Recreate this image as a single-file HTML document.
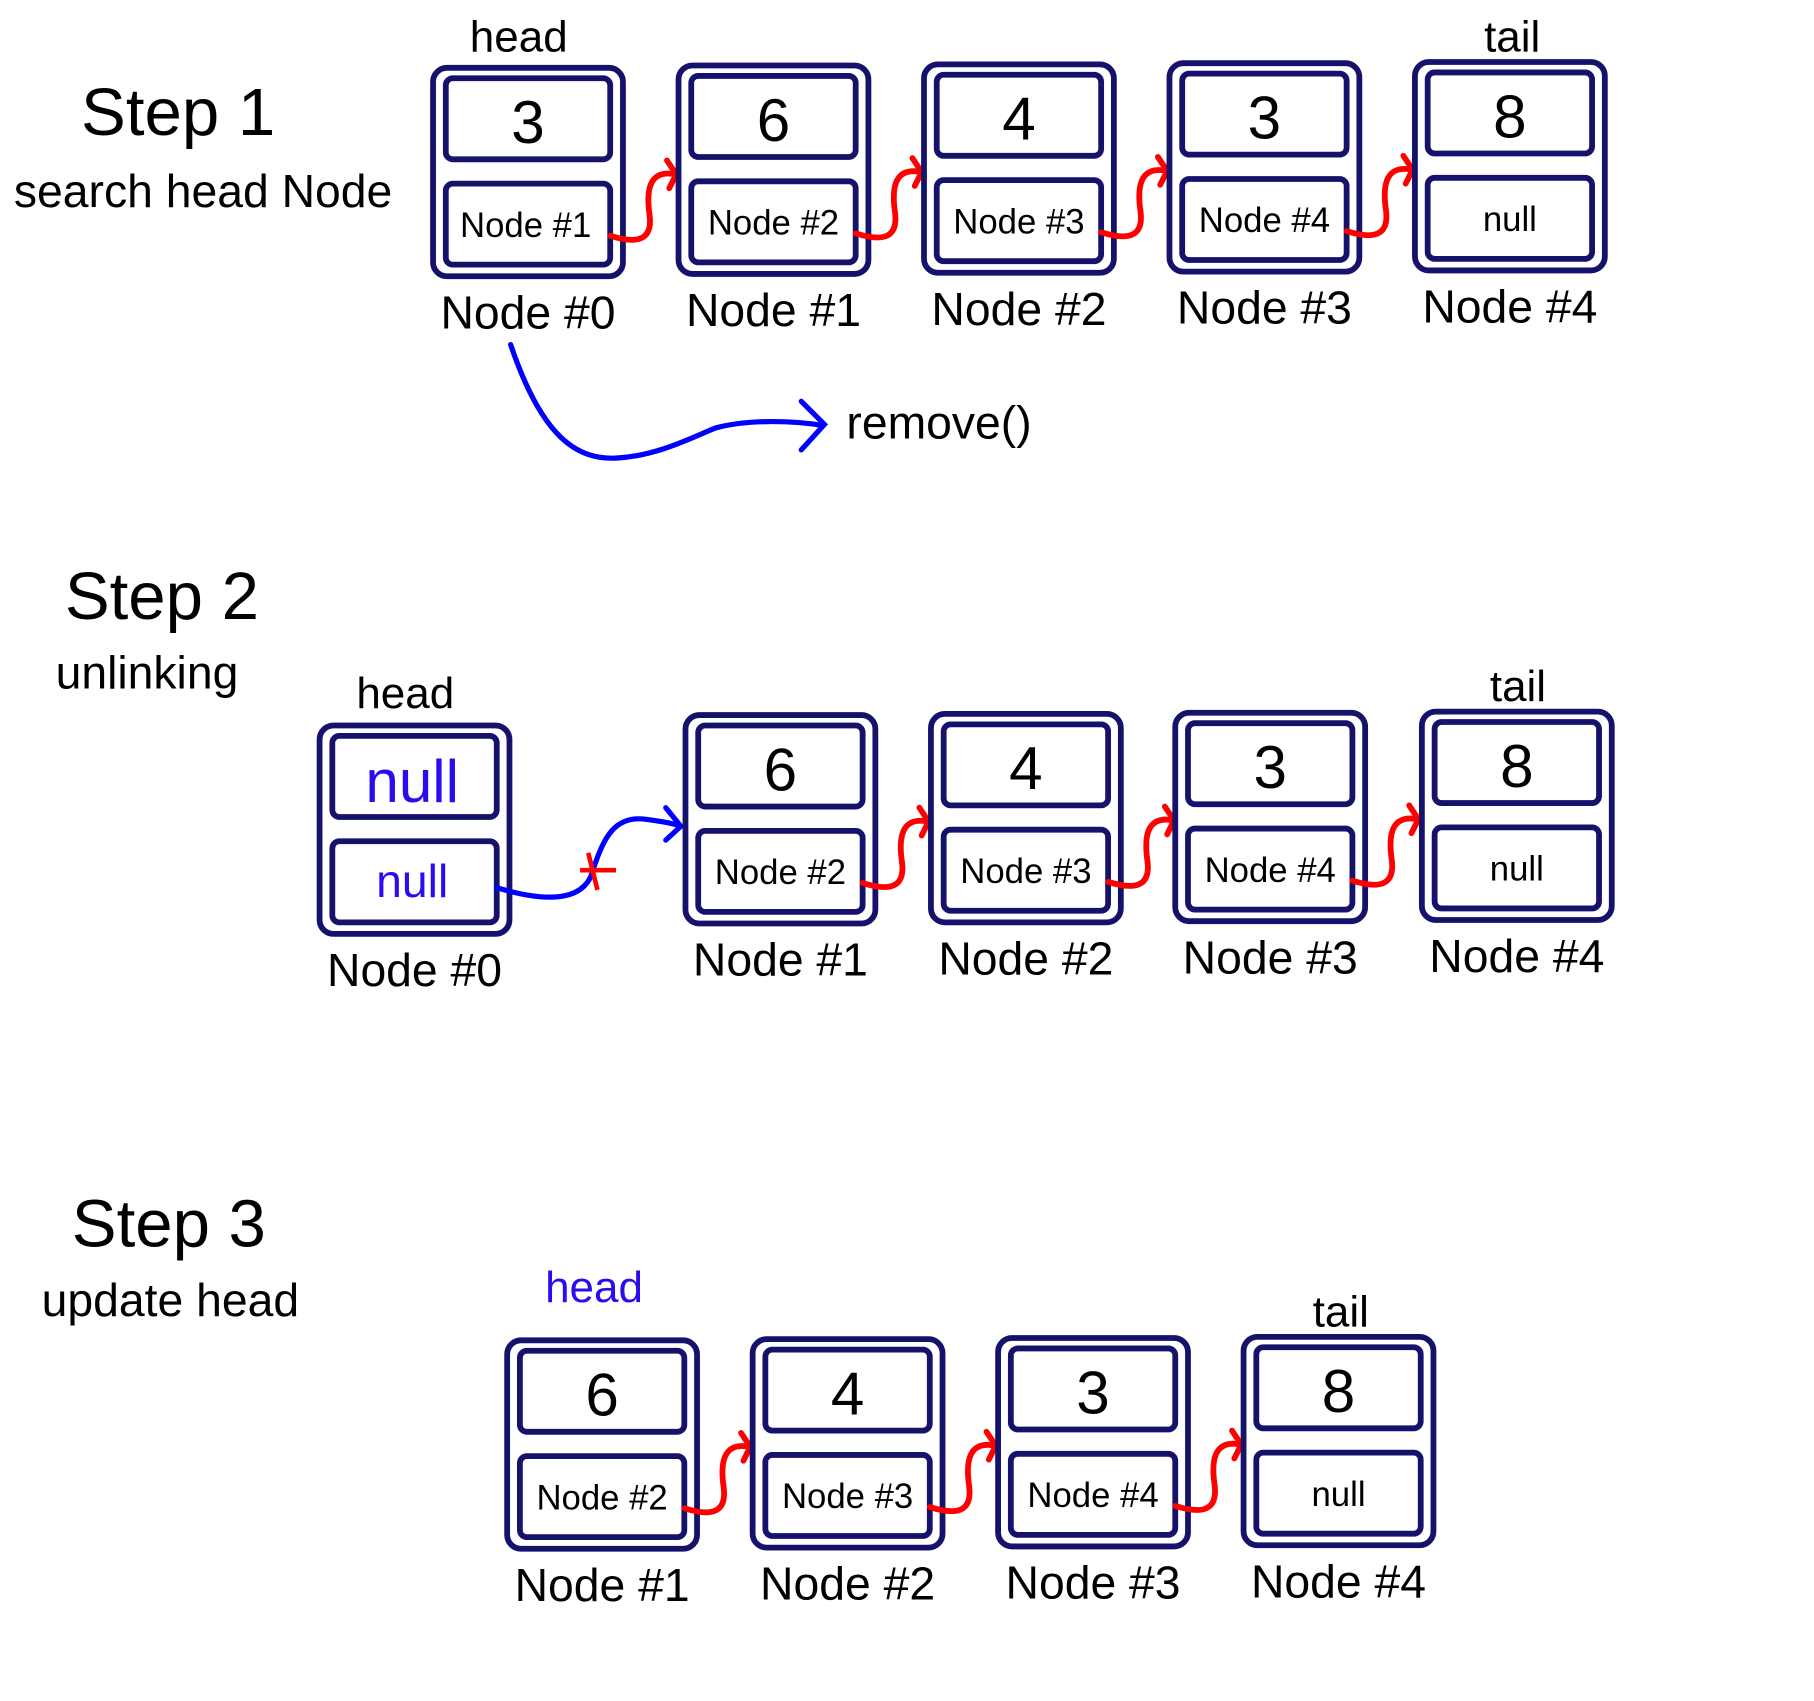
<!DOCTYPE html>
<html><head><meta charset="utf-8"><style>
html,body{margin:0;padding:0;background:#fff;}
svg{display:block;}
text{font-family:"Liberation Sans",Arial,sans-serif;fill:#000;}
.b{fill:none;stroke:#14126b;stroke-width:5;}
.r{fill:none;stroke:#ff0000;stroke-width:5;stroke-linecap:round;}
.bl{fill:none;stroke:#0000ff;stroke-width:4.5;stroke-linecap:round;}
.v{font-size:52px;text-anchor:middle;}
.p{font-size:30px;text-anchor:middle;}
.l{font-size:40px;text-anchor:middle;}
</style></head><body>
<svg width="1814" height="1701" viewBox="0 0 1550 1453.5" xmlns="http://www.w3.org/2000/svg">
<defs>
<g id="box">
<rect class="b" x="0" y="0" width="164" height="180" rx="12"/>
<rect class="b" x="11" y="9" width="142" height="70" rx="6"/>
<rect class="b" x="11" y="100" width="142" height="70" rx="6"/>
</g>
<g id="con">
<path class="r" d="M153 145 C175 152,190 150,187 127 C183 100,190 88,210 92"/>
<path class="r" d="M202 80 L210 92 L204 104"/>
</g>
</defs>
<g transform="translate(-2,-2.4) scale(0.9894)">
<!-- Step 1 -->
<text x="72" y="119" style="font-size:58px">Step 1</text>
<text x="14" y="181" style="font-size:40px">search head Node</text>
<text x="450" y="47" style="font-size:38px" text-anchor="middle">head</text>
<text x="1308" y="47" style="font-size:38px" text-anchor="middle">tail</text>

<g transform="translate(376,61)"><use href="#box"/><use href="#con"/><text class="v" x="82" y="65">3</text><text class="p" x="80" y="146">Node #1</text><text class="l" x="82" y="225">Node #0</text></g>
<g transform="translate(588,59)"><use href="#box"/><use href="#con"/><text class="v" x="82" y="65">6</text><text class="p" x="82" y="146">Node #2</text><text class="l" x="82" y="225">Node #1</text></g>
<g transform="translate(800,58)"><use href="#box"/><use href="#con"/><text class="v" x="82" y="65">4</text><text class="p" x="82" y="146">Node #3</text><text class="l" x="82" y="225">Node #2</text></g>
<g transform="translate(1012,57)"><use href="#box"/><use href="#con"/><text class="v" x="82" y="65">3</text><text class="p" x="82" y="146">Node #4</text><text class="l" x="82" y="225">Node #3</text></g>
<g transform="translate(1224,56)"><use href="#box"/><text class="v" x="82" y="65">8</text><text class="p" x="82" y="146">null</text><text class="l" x="82" y="225">Node #4</text></g>

<path class="bl" d="M443 300 C470 380,500 400,535 398 C570 396,600 380,620 372 C650 364,690 366,713 370"/>
<path class="bl" d="M694 349 L714 369 L694 391"/>
<text x="733" y="381" style="font-size:40px">remove()</text>

<!-- Step 2 -->
<text x="58" y="537" style="font-size:58px">Step 2</text>
<text x="50" y="597" style="font-size:40px">unlinking</text>
<text x="352" y="614" style="font-size:38px" text-anchor="middle">head</text>
<text x="1313" y="608" style="font-size:38px" text-anchor="middle">tail</text>

<g transform="translate(278,629)"><use href="#box"/><text class="v" x="80" y="66" style="fill:#2a0cf0">null</text><text class="v" x="80" y="148" style="fill:#2a0cf0;font-size:40px">null</text><text class="l" x="82" y="225">Node #0</text></g>
<path class="bl" d="M431 769 C460 778,500 785,512 760 C522 730,530 706,560 710 C575 712,585 714,590 716"/>
<path class="bl" d="M577 700 L590 716 L577 728"/>
<path d="M503 754 L534 754 M510 739 L518 771" stroke="#ff0000" stroke-width="4" fill="none"/>

<g transform="translate(594,620)"><use href="#box"/><use href="#con"/><text class="v" x="82" y="65">6</text><text class="p" x="82" y="146">Node #2</text><text class="l" x="82" y="225">Node #1</text></g>
<g transform="translate(806,619)"><use href="#box"/><use href="#con"/><text class="v" x="82" y="65">4</text><text class="p" x="82" y="146">Node #3</text><text class="l" x="82" y="225">Node #2</text></g>
<g transform="translate(1017,618)"><use href="#box"/><use href="#con"/><text class="v" x="82" y="65">3</text><text class="p" x="82" y="146">Node #4</text><text class="l" x="82" y="225">Node #3</text></g>
<g transform="translate(1230,617)"><use href="#box"/><text class="v" x="82" y="65">8</text><text class="p" x="82" y="146">null</text><text class="l" x="82" y="225">Node #4</text></g>

<!-- Step 3 -->
<text x="64" y="1079" style="font-size:58px">Step 3</text>
<text x="38" y="1139" style="font-size:40px">update head</text>
<text x="515" y="1127" style="font-size:38px;fill:#2a0cf0" text-anchor="middle">head</text>
<text x="1160" y="1148" style="font-size:38px" text-anchor="middle">tail</text>

<g transform="translate(440,1160)"><use href="#box"/><use href="#con"/><text class="v" x="82" y="65">6</text><text class="p" x="82" y="146">Node #2</text><text class="l" x="82" y="225">Node #1</text></g>
<g transform="translate(652,1159)"><use href="#box"/><use href="#con"/><text class="v" x="82" y="65">4</text><text class="p" x="82" y="146">Node #3</text><text class="l" x="82" y="225">Node #2</text></g>
<g transform="translate(864,1158)"><use href="#box"/><use href="#con"/><text class="v" x="82" y="65">3</text><text class="p" x="82" y="146">Node #4</text><text class="l" x="82" y="225">Node #3</text></g>
<g transform="translate(1076,1157)"><use href="#box"/><text class="v" x="82" y="65">8</text><text class="p" x="82" y="146">null</text><text class="l" x="82" y="225">Node #4</text></g>
</g>
</svg>
</body></html>
